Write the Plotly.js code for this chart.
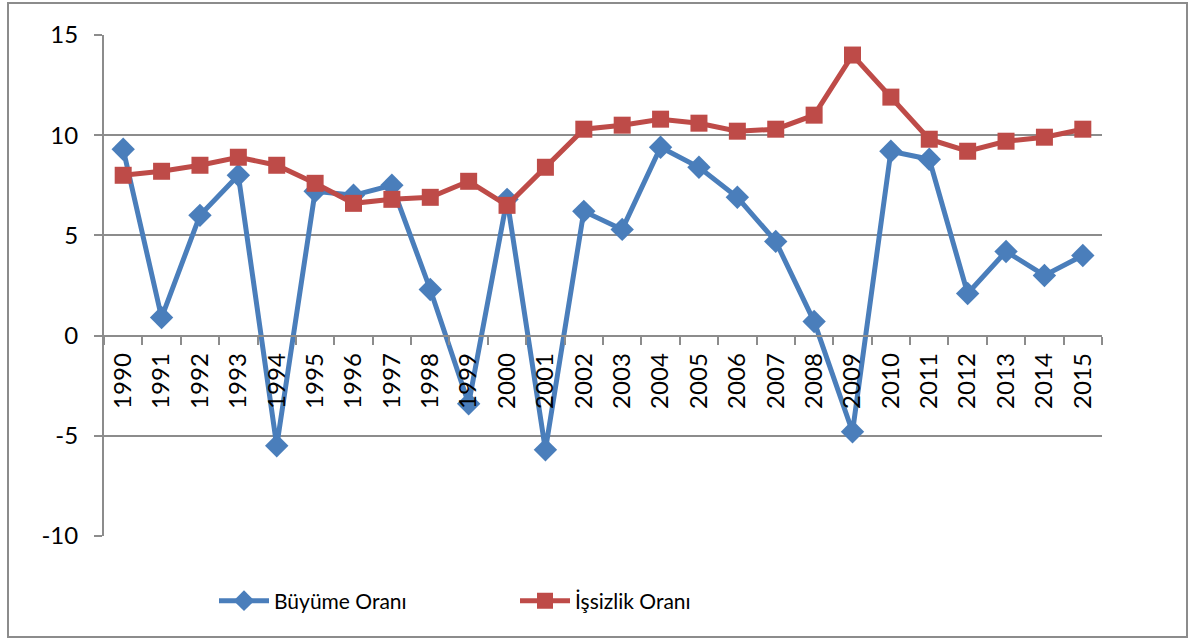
<!DOCTYPE html>
<html>
<head>
<meta charset="utf-8">
<script src="https://cdn.plot.ly/plotly-3.0.1.min.js"></script>
<style>html,body{margin:0;padding:0;background:#fff;}#chart{width:1193px;height:639px;}</style>
</head>
<body>
<div id="chart"></div>
<script>
const years = ["1990","1991","1992","1993","1994","1995","1996","1997","1998","1999","2000","2001","2002","2003","2004","2005","2006","2007","2008","2009","2010","2011","2012","2013","2014","2015"];
const buyume = [9.3, 0.9, 6.0, 8.0, -5.5, 7.2, 7.0, 7.5, 2.3, -3.4, 6.8, -5.7, 6.2, 5.3, 9.4, 8.4, 6.9, 4.7, 0.7, -4.8, 9.2, 8.8, 2.1, 4.2, 3.0, 4.0];
const issizlik = [8.0, 8.2, 8.5, 8.9, 8.5, 7.6, 6.6, 6.8, 6.9, 7.7, 6.5, 8.4, 10.3, 10.5, 10.8, 10.6, 10.2, 10.3, 11.0, 14.0, 11.9, 9.8, 9.2, 9.7, 9.9, 10.3];
const seriesNames = ["Büyüme Oranı", "İşsizlik Oranı"];
const yTickVals = [-10, -5, 0, 5, 10, 15];
const yTickText = ["-10", "-5", "0", "5", "10", "15"];

const FONT = "Lato, 'Open Sans', sans-serif";
const L = 104, R = 1102, T = 35, B = 536, W = 1193, H = 639;
const px = x => (x - L) / (R - L);
const py = y => (B - y) / (B - T);

const traces = [
  {x: years, y: buyume, name: seriesNames[0], type: 'scatter', mode: 'lines+markers',
   line: {color: '#4A7EBB', width: 5}, marker: {symbol: 'diamond', size: 18, color: '#4A7EBB'}},
  {x: years, y: issizlik, name: seriesNames[1], type: 'scatter', mode: 'lines+markers',
   line: {color: '#BE4B48', width: 5}, marker: {symbol: 'square', size: 17, color: '#BE4B48'}}
];

const layout = {
  width: W, height: H,
  margin: {l: L, r: W - R, t: T, b: H - B},
  paper_bgcolor: '#fff', plot_bgcolor: '#fff',
  showlegend: true,
  hovermode: false,
  font: {family: FONT, size: 24, color: '#000'},
  xaxis: {
    type: 'category', anchor: 'free', position: 0.4,
    showline: true, linecolor: '#8c8c8c', linewidth: 2,
    ticks: 'outside', tickson: 'boundaries', ticklen: 8, tickcolor: '#8c8c8c', tickwidth: 2,
    tickangle: -90, tickfont: {family: FONT, size: 24, color: '#000'}, ticklabelstandoff: 7,
    showgrid: false, zeroline: false, range: [-0.5, 25.5], fixedrange: true
  },
  yaxis: {
    range: [-10, 15], tickmode: 'array', tickvals: yTickVals, ticktext: yTickText,
    showline: true, linecolor: '#8c8c8c', linewidth: 2,
    ticks: 'outside', ticklen: 8, tickcolor: '#8c8c8c', tickwidth: 2,
    showgrid: true, gridcolor: '#8c8c8c', gridwidth: 2, zeroline: false,
    tickfont: {family: FONT, size: 24, color: '#000'}, ticklabelstandoff: 11, fixedrange: true
  },
  legend: {
    orientation: 'h', x: px(214), y: py(601), xanchor: 'left', yanchor: 'middle',
    itemwidth: 50, entrywidth: 236, entrywidthmode: 'pixels',
    font: {family: FONT, size: 21, color: '#000'}, bgcolor: 'rgba(0,0,0,0)', tracegroupgap: 0
  },
  shapes: [
    {type: 'rect', xref: 'paper', yref: 'paper', x0: px(8), x1: px(1187), y0: py(637), y1: py(3),
     line: {color: '#8c8c8c', width: 2}, fillcolor: 'rgba(0,0,0,0)', layer: 'below'}
  ]
};

Plotly.newPlot('chart', traces, layout, {displayModeBar: false, staticPlot: true});
</script>
</body>
</html>
